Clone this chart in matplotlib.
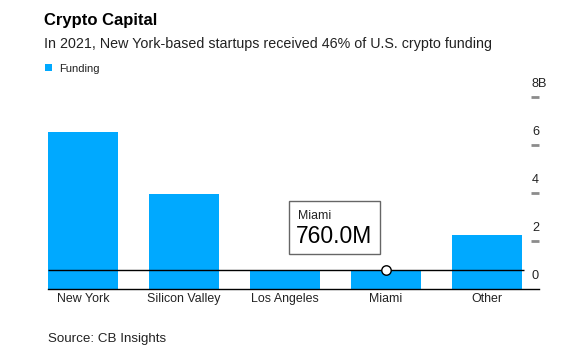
import matplotlib
matplotlib.use("Agg")
import matplotlib.pyplot as plt
from matplotlib.patches import Rectangle
from matplotlib.transforms import blended_transform_factory

plt.rcParams['font.family'] = ['Liberation Sans', 'DejaVu Sans']

# data (billions of dollars, 2021)
cities = ["New York", "Silicon Valley", "Los Angeles", "Miami", "Other"]
funding = [6.51, 3.94, 0.75, 0.76, 2.22]
y_ticks = [0, 2, 4, 6, 8]
y_tick_labels = ["0", "2", "4", "6", "8B"]
hover_city = "Miami"
hover_label = "760.0M"

blue = "#00a9ff"
width = 0.693

fig = plt.figure(figsize=(5.77, 3.57), dpi=100)
ax = fig.add_axes([48 / 577, 1 - 288.5 / 357, 491 / 577, 191.8 / 357])

x = list(range(len(cities)))
ax.bar(x, funding, width=width, color=blue, zorder=2)

left = -0.3465
ax.set_xlim(left, left + 491 / 101)
ax.set_ylim(0, 8)

# axes styling
for s in ["top", "left", "right"]:
    ax.spines[s].set_visible(False)
ax.spines["bottom"].set_color("black")
ax.spines["bottom"].set_linewidth(1.0)
ax.set_xticks(x)
ax.set_xticklabels(cities, fontsize=8.9, color="#222222")
ax.tick_params(axis="x", length=0, pad=3.5)

ax.yaxis.tick_right()
ax.set_yticks(y_ticks[1:])
ax.set_yticklabels([])
ax.tick_params(axis="y", direction="in", length=5.8, width=2, color="#8c8c8c", pad=0)
trans = blended_transform_factory(ax.transAxes, ax.transData)
for t, lab in zip(y_ticks, y_tick_labels):
    ax.text(1 - 7 / 491, t + 0.28, lab, transform=trans, fontsize=9.2,
            color="#222222", ha="left", va="bottom", clip_on=False)

# hover line and marker
hi = cities.index(hover_city)
ax.hlines(funding[hi], left, len(cities) - 1 + width / 2 + 0.02, color="black",
          linewidth=1.0, zorder=3)
ax.plot([hi], [funding[hi]], marker="o", markersize=6.8, markerfacecolor="white",
        markeredgecolor="black", markeredgewidth=1.0, zorder=4)

# tooltip
ax.add_patch(Rectangle((0.4908, 0.1799), 0.1853, 0.278, transform=ax.transAxes,
                       facecolor="white", edgecolor="#666666", linewidth=1.0,
                       zorder=5, clip_on=False))
ax.text(0.509, 0.378, hover_city, transform=ax.transAxes, fontsize=8.9,
        color="#222222", ha="left", va="center", zorder=6)
ax.text(0.505, 0.272, hover_label, transform=ax.transAxes, fontsize=16.5,
        color="black", ha="left", va="center", zorder=6)

# title block
fig.text(44 / 577, 1 - 25 / 357, "Crypto Capital", fontsize=12,
         fontweight="bold", color="black", va="baseline")
fig.text(44 / 577, 1 - 47.7 / 357,
         "In 2021, New York-based startups received 46% of U.S. crypto funding",
         fontsize=10.3, color="#222222", va="baseline")
fig.patches.append(Rectangle((45 / 577, 1 - 71 / 357), 7 / 577, 7 / 357,
                             transform=fig.transFigure, facecolor=blue,
                             edgecolor="none"))
fig.text(59 / 577, 1 - 72 / 357, "Funding", fontsize=8, color="#222222",
         va="baseline")
fig.text(48 / 577, 1 - 341.7 / 357, "Source: CB Insights", fontsize=9.6,
         color="#222222", va="baseline")

fig.savefig("out.png", dpi=100)
